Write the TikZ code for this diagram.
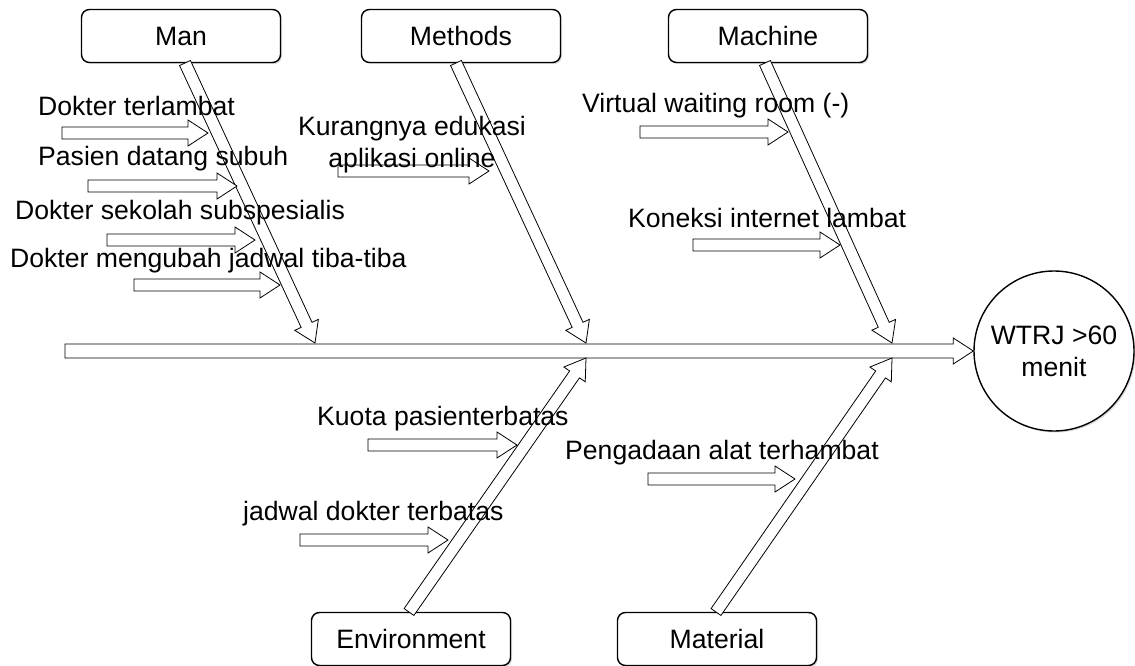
\documentclass[tikz,border=0pt]{standalone}
\usepackage{fontspec}
\setmainfont{Liberation Sans}
\usetikzlibrary{calc}
\usetikzlibrary{shadows}

\tikzset{
  catbox/.style={draw,rectangle,rounded corners=8pt,line width=1.4pt,fill=white,
    minimum width=199pt,minimum height=53pt,
    drop shadow={shadow xshift=1.5pt,shadow yshift=-1.5pt,opacity=0.3}},
  effect/.style={draw,circle,line width=1.4pt,fill=white,minimum size=160pt,align=center,
    drop shadow={shadow xshift=1.5pt,shadow yshift=-1.5pt,opacity=0.3}},
  hollow/.style={draw,line width=0.8pt,fill=white,line join=miter},
  cause/.style={inner sep=0pt,anchor=west},
}

% hollow block arrow: from #1 to #2, shaft half width #3, head half width #4
\newcommand{\hollowarrow}[4]{
  \coordinate (hbase) at ($(#2)!20pt!(#1)$);
  \path [hollow] ($(#1)!#3!90:(#2)$) -- ($(hbase)!#3!-90:(#1)$) -- ($(hbase)!#4!-90:(#1)$)
    -- (#2) -- ($(hbase)!#4!90:(#1)$) -- ($(hbase)!#3!90:(#1)$) -- ($(#1)!#3!-90:(#2)$) -- cycle;
}

\begin{document}
\begin{tikzpicture}[x=1pt,y=-1pt,font=\fontsize{26.6}{32}\selectfont]
  \useasboundingbox (0,0) rectangle (1135,666);

  \node [catbox] (man)         at (181,36)  {Man};
  \node [catbox] (methods)     at (461,36)  {Methods};
  \node [catbox] (machine)     at (768,36)  {Machine};
  \node [catbox] (environment) at (411,639) {Environment};
  \node [catbox] (material)    at (717,639) {Material};
  \node [effect] (wtrj)        at (1054,351) {WTRJ >60\\menit};

  \coordinate (tail)       at (65,351);
  \coordinate (man_in)     at (185,63);
  \coordinate (man_out)    at (315,343);
  \coordinate (methods_in) at (456,63);
  \coordinate (methods_out) at (586,343);
  \coordinate (machine_in) at (765,63);
  \coordinate (machine_out) at (892,343);
  \coordinate (env_in)     at (409,612);
  \coordinate (env_out)    at (586,358);
  \coordinate (mat_in)     at (716,612);
  \coordinate (mat_out)    at (892,358);

  \hollowarrow{tail}{wtrj.west}{7pt}{13pt}
  \hollowarrow{man_in}{man_out}{6pt}{13pt}
  \hollowarrow{methods_in}{methods_out}{6pt}{13pt}
  \hollowarrow{machine_in}{machine_out}{6pt}{13pt}
  \hollowarrow{env_in}{env_out}{6pt}{13pt}
  \hollowarrow{mat_in}{mat_out}{6pt}{13pt}

  \foreach \name/\xa/\xb/\ya in {
      late/62/208/133, dawn/88/237/186, school/107/255/240, resched/134/280/285,
      edu/338/489/171, vwr/640/788/132, net/693/840/245,
      quota/368/517/445, sched/300/448/540, equip/648/795/479} {
    \coordinate (\name_a) at (\xa,\ya);
    \coordinate (\name_b) at (\xb,\ya);
    \hollowarrow{\name_a}{\name_b}{6pt}{13pt}
  }

  \node [cause] (t_late)    at (38,106)  {Dokter terlambat};
  \node [cause] (t_dawn)    at (38,159)  {Pasien datang subuh};
  \node [cause] (t_school)  at (15,213)  {Dokter sekolah subspesialis};
  \node [cause] (t_resched) at (10,261)  {Dokter mengubah jadwal tiba-tiba};
  \node [align=center,inner sep=0pt] (t_edu) at (412,145) {Kurangnya edukasi\\aplikasi online};
  \node [cause] (t_vwr)     at (582,106) {Virtual waiting room (-)};
  \node [cause] (t_net)     at (628,218) {Koneksi internet lambat};
  \node [cause] (t_quota)   at (317,419) {Kuota pasienterbatas};
  \node [cause] (t_sched)   at (243,514) {jadwal dokter terbatas};
  \node [cause] (t_equip)   at (565,453) {Pengadaan alat terhambat};
\end{tikzpicture}
\end{document}
